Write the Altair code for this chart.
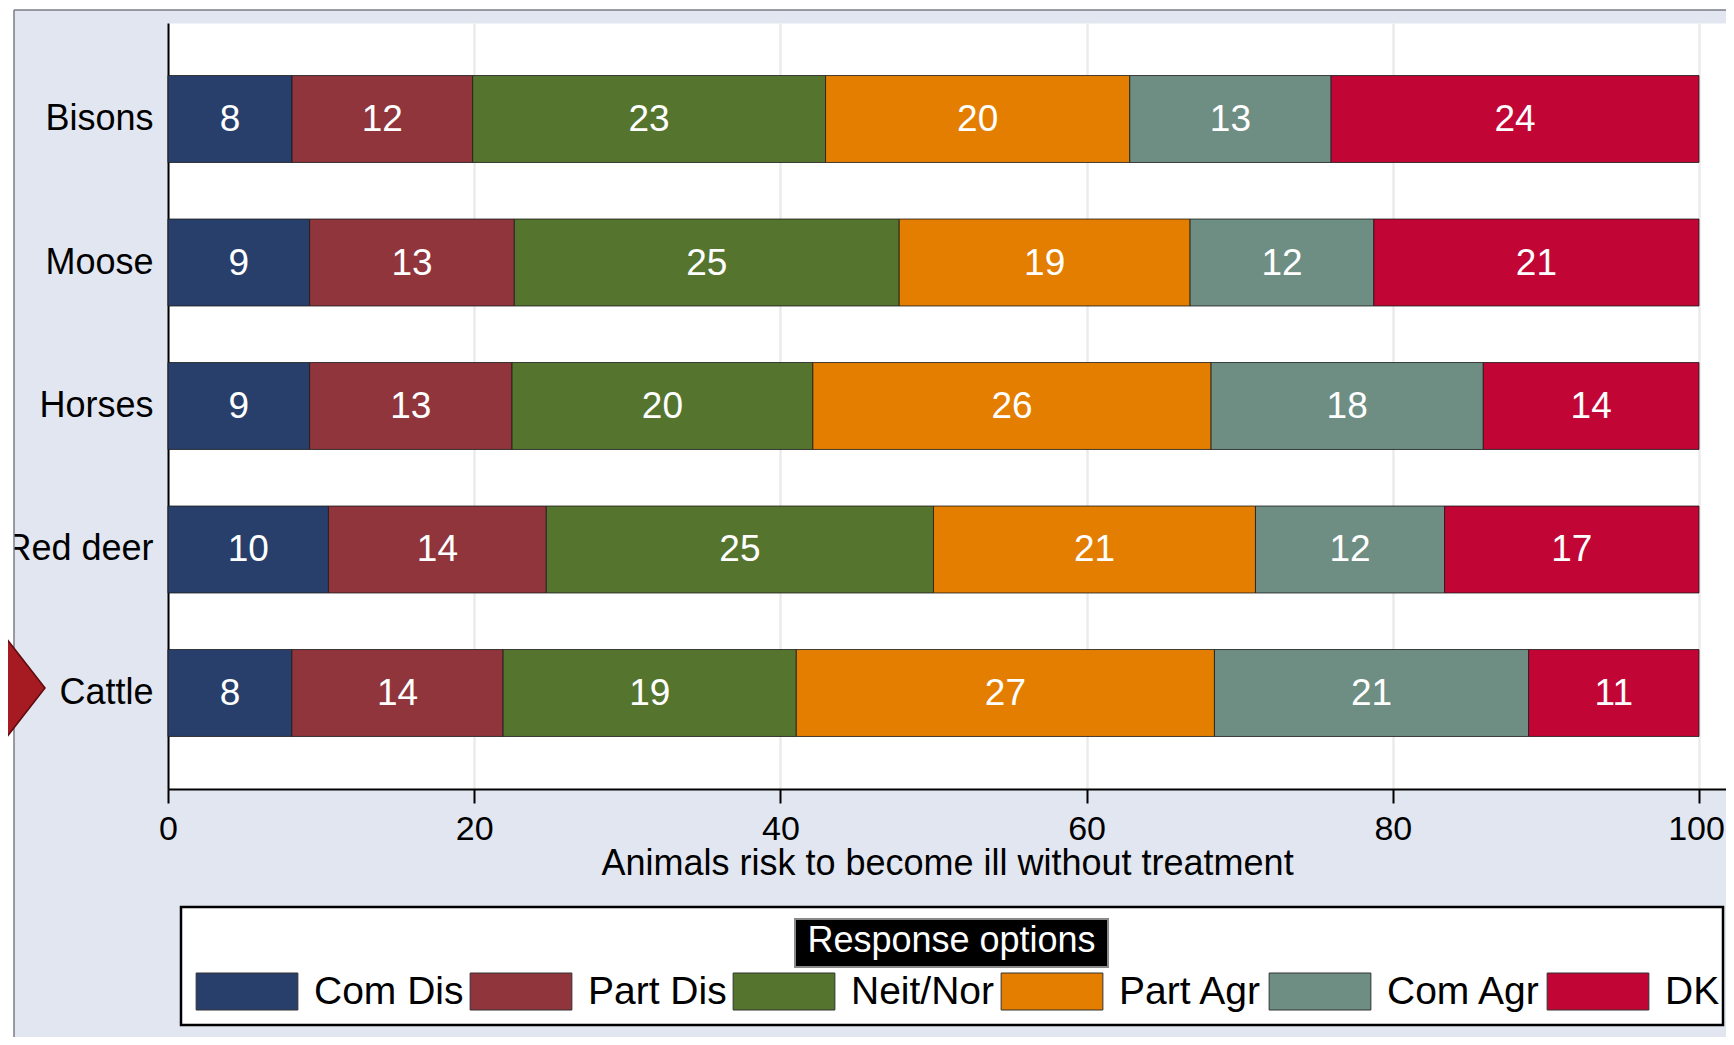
import altair as alt
import pandas as pd

FONT = "Liberation Sans"

animals = ["Bisons", "Moose", "Horses", "Red deer", "Cattle"]
options = ["Com Dis", "Part Dis", "Neit/Nor", "Part Agr", "Com Agr", "DK"]
colors = ["#283F6C", "#8F353B", "#55752F", "#E37E00", "#6E8E84", "#C10534"]

# underlying shares (read from segment boundaries)
bisons = [8.1, 11.8, 23.05, 19.87, 13.15, 24.03]
moose = [9.25, 13.37, 25.14, 19.0, 12.0, 21.24]
horses = [9.25, 13.22, 19.65, 26.01, 17.78, 14.09]
red_deer = [10.48, 14.23, 25.29, 21.03, 12.35, 16.62]
cattle = [8.09, 13.8, 19.15, 27.31, 20.52, 11.13]

# printed labels
bisons_lbl = [8, 12, 23, 20, 13, 24]
moose_lbl = [9, 13, 25, 19, 12, 21]
horses_lbl = [9, 13, 20, 26, 18, 14]
red_deer_lbl = [10, 14, 25, 21, 12, 17]
cattle_lbl = [8, 14, 19, 27, 21, 11]

x_ticks = [0, 20, 40, 60, 80, 100]
x_title = "Animals risk to become ill without treatment"
legend_title = "Response options"

series = [bisons, moose, horses, red_deer, cattle]
labels = [bisons_lbl, moose_lbl, horses_lbl, red_deer_lbl, cattle_lbl]

rows = []
for a, vals, lbls in zip(animals, series, labels):
    for i, (o, v, l) in enumerate(zip(options, vals, lbls)):
        rows.append({"animal": a, "option": o, "ord": i, "value": v, "label": str(l)})
df = pd.DataFrame(rows)

W, H = 1558, 766
XMAX = 100 * W / 1531.0

base = alt.Chart(df).transform_stack(
    stack="value", groupby=["animal"], as_=["x0", "x1"],
    sort=[alt.SortField("ord", order="ascending")]
).transform_calculate(xm="(datum.x0 + datum.x1) / 2")

yenc = alt.Y("animal:N", sort=animals,
             scale=alt.Scale(paddingInner=0.394, paddingOuter=0.366),
             axis=alt.Axis(title=None, ticks=False, tickSize=0, labelFontSize=36,
                           labelFont=FONT, labelColor="black", labelPadding=15,
                           domainColor="black", domainWidth=2, grid=False))

xscale = alt.Scale(domain=[0, XMAX], nice=False, zero=False)

legend_path = "M-1.01,-0.5H1.74V0.5H-1.01Z"

bars = base.mark_bar(stroke="#1a1a1a", strokeWidth=1, strokeOpacity=0.8).encode(
    x=alt.X("x0:Q", scale=xscale,
            axis=alt.Axis(values=x_ticks, title=x_title, labelFontSize=34, labelFont=FONT,
                          labelColor="black", labelFlush=False, labelPadding=9,
                          labelOffset={"condition": {"test": "datum.value == 100", "value": -3},
                                       "value": 0},
                          tickColor="black", tickWidth=2, tickSize=14,
                          domainColor="black", domainWidth=2,
                          grid=True, gridColor="#EBEBEB", gridWidth=2.5,
                          titleFont=FONT, titleFontSize=36, titleFontWeight="normal",
                          titleColor="black", titlePadding=0)),
    x2="x1:Q",
    y=yenc,
    color=alt.Color("option:N", sort=options,
                    scale=alt.Scale(domain=options, range=colors),
                    legend=alt.Legend(orient="none", legendX=28, legendY=931,
                                      direction="horizontal", columns=6, title=None,
                                      symbolType=legend_path, symbolSize=5476,
                                      symbolStrokeWidth=1, symbolStrokeColor="#333333",
                                      symbolOpacity=1,
                                      labelFont=FONT, labelFontSize=39, labelColor="black",
                                      labelOffset=43, columnPadding=4, padding=0,
                                      labelLimit=400)),
)

texts = base.mark_text(color="white", fontSize=37, font=FONT, baseline="middle",
                       align="center", dy=1).encode(
    x=alt.X("xm:Q", scale=xscale),
    y=alt.Y("animal:N", sort=animals),
    text="label:N",
)

one = alt.Chart(pd.DataFrame({"k": [0]}))

strip_left = one.mark_rect(color="white").encode(
    x=alt.value(-160), x2=alt.value(-154), y=alt.value(-15), y2=alt.value(1014))
strip_top = one.mark_rect(color="white").encode(
    x=alt.value(-160), x2=alt.value(W), y=alt.value(-15), y2=alt.value(-13))
border_v = one.mark_rule(color="#7a7d88", strokeWidth=1.5).encode(
    x=alt.value(-154), y=alt.value(-13), y2=alt.value(1014))
border_h = one.mark_rule(color="#7a7d88", strokeWidth=1.5).encode(
    x=alt.value(-154), x2=alt.value(W), y=alt.value(-13))

legend_box = one.mark_rect(fill="white", stroke="black", strokeWidth=2.5).encode(
    x=alt.value(13), x2=alt.value(1555), y=alt.value(884), y2=alt.value(1002))
title_box = one.mark_rect(fill="black", stroke="#8a8a8a", strokeWidth=2).encode(
    x=alt.value(627), x2=alt.value(940), y=alt.value(896), y2=alt.value(944))
title_text = one.mark_text(text=legend_title, color="white", fontSize=36, font=FONT,
                           baseline="middle", align="center").encode(
    x=alt.value(783.5), y=alt.value(918))

arrow = one.mark_point(shape="M27,0L-40,-86L-107,0L-40,86Z", size=4, filled=True,
                       fill="#A51B21", stroke="#5C0A0E", strokeWidth=1.5,
                       opacity=1).encode(x=alt.value(-150), y=alt.value(665))

chart = alt.layer(
    strip_left, strip_top, border_v, border_h,
    legend_box, title_box, title_text,
    bars, texts, arrow
).properties(
    width=W, height=H,
    background="#E1E6F0",
    padding={"left": 160, "top": 15, "right": 0, "bottom": 248},
    autosize=alt.AutoSizeParams(type="none"),
).configure_view(fill="white", strokeOpacity=0)

chart.save("out.html", embed_options={"renderer": "svg", "actions": False})
